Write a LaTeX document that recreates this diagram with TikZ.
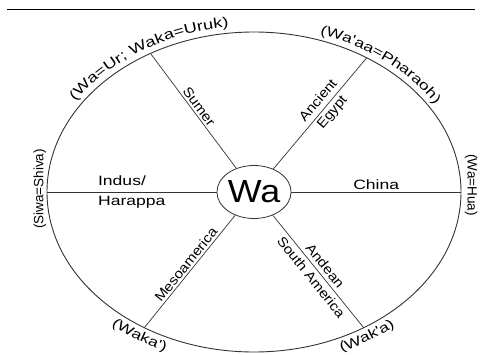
\documentclass[tikz,border=0pt]{standalone}
\usepackage{fontspec}
\newfontfamily\hfont[FakeStretch=1.3]{Liberation Sans}
\newfontfamily\dfont[FakeStretch=1.12]{Liberation Sans}
\newfontfamily\vfont{Liberation Sans}
\usepackage{tikz}
\usetikzlibrary{shapes.geometric, decorations.text}
\definecolor{wheelgray}{HTML}{333333}

\begin{document}
\begin{tikzpicture}[x=1pt, y=1pt,
    rim/.style={draw=wheelgray, line width=0.9pt},
    spoke/.style={draw=wheelgray, line width=0.7pt},
    lbl/.style={font=\dfont\fontsize{13.5}{18}\selectfont, inner sep=2pt},
    hlbl/.style={font=\hfont\fontsize{13.5}{20}\selectfont, inner sep=2pt},
    vlbl/.style={font=\vfont\fontsize{13.5}{16}\selectfont, inner sep=0pt},
    arclbl/.style={decorate, decoration={text along path, text align=#1}}]
  \useasboundingbox (-254,-162) rectangle (226,192);

  %% --- top rule ---
  \draw[line width=0.8pt] (-247,183) -- (221,183);

  %% --- wheel and hub ---
  \draw[rim] (0,0) ellipse [x radius=207pt, y radius=160pt];
  \node[draw=wheelgray, line width=0.8pt, ellipse, minimum width=70pt,
        minimum height=53pt, inner sep=0pt,
        font=\dfont\fontsize{32}{36}\selectfont] (wa) at (0,0) {Wa};

  %% rim points of the six spokes
  \coordinate (su)   at (120:207pt and 160pt);
  \coordinate (eg)   at (57:207pt and 160pt);
  \coordinate (hua)  at (207,0);
  \coordinate (siwa) at (-207,0);
  \coordinate (me)   at (238:207pt and 160pt);
  \coordinate (an)   at (302:207pt and 160pt);

  %% --- spokes with their regions ---
  \draw[spoke] (wa) -- (su)
    node[lbl, midway, sloped, above] (sumer) {Sumer};
  \draw[spoke] (wa) -- (eg)
    node[lbl, pos=0.56, sloped, align=center] (egypt) {Ancient\\Egypt};
  \draw[spoke] (wa) -- (hua)
    node[hlbl, midway, above] (china) {China};
  \draw[spoke] (wa) -- (siwa)
    node[hlbl, midway, align=left] (indus) {Indus/\\Harappa};
  \draw[spoke] (wa) -- (me)
    node[lbl, pos=0.48, sloped, above] (meso) {Mesoamerica};
  \draw[spoke] (wa) -- (an)
    node[lbl, pos=0.5, sloped, align=center] (andes) {Andean\\South America};

  %% --- words round the rim ---
  \node[vlbl, rotate=90]  (siwalbl) at (-214,3) {(Siwa=Shiva)};
  \node[vlbl, rotate=-90] (hualbl)  at (217,7)  {(Wa=Hua)};
  \path[arclbl=left, decoration={text={|\hfont\fontsize{14}{16}\selectfont|(Wa=Ur; Waka=Uruk)}}]
    (147:213pt and 166pt) arc[start angle=147, end angle=60, x radius=213pt, y radius=166pt];
  \path[arclbl=left, decoration={text={|\hfont\fontsize{13.5}{16}\selectfont|(Wa'aa=Pharaoh)}}]
    (72:213pt and 166pt) arc[start angle=72, end angle=10, x radius=213pt, y radius=166pt];
  \path[arclbl=center, decoration={text={|\hfont\fontsize{13.5}{16}\selectfont|(Waka')}}]
    (217:221pt and 174pt) arc[start angle=217, end angle=258, x radius=221pt, y radius=174pt];
  \path[arclbl=center, decoration={text={|\hfont\fontsize{13.5}{16}\selectfont|(Wak'a)}}]
    (282:221pt and 174pt) arc[start angle=282, end angle=322, x radius=221pt, y radius=174pt];
\end{tikzpicture}
\end{document}
